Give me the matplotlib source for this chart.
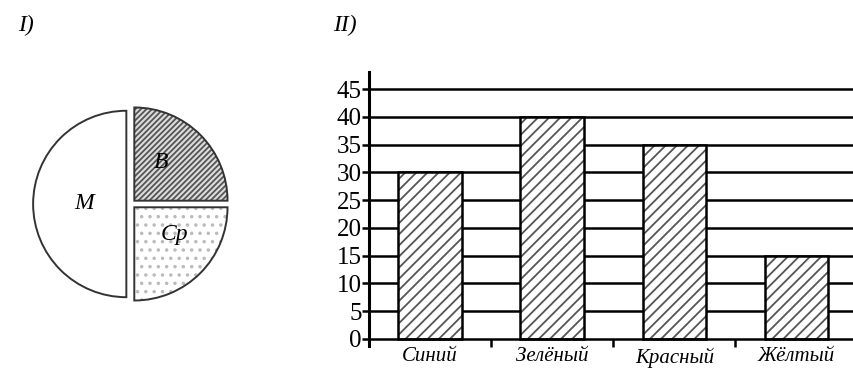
import matplotlib
matplotlib.use("Agg")
import matplotlib.pyplot as plt
import matplotlib.ticker as ticker

plt.rcParams["font.family"] = ["Liberation Serif", "DejaVu Serif"]
plt.rcParams["hatch.linewidth"] = 1.3

# pie (I)
pie_labels = ["M", "Cp", "B"]
pie_values = [50, 25, 25]

# bars (II)
categories = ["Синий", "Зелёный", "Красный", "Жёлтый"]
values = [30, 40, 35, 15]
y_ticks = [0, 5, 10, 15, 20, 25, 30, 35, 40, 45]

fig = plt.figure(figsize=(8.54, 3.68), dpi=100)

# ---- pie ----
ax1 = fig.add_axes([0.0246, 0.1467, 0.2576, 0.598])
explode = [0.05, 0.05, 0.05]
# fill + hatch layer
fills, _ = ax1.pie(pie_values, startangle=90, counterclock=True, explode=explode,
                   wedgeprops=dict(linewidth=0))
fills[0].set_facecolor("white")
fills[1].set_facecolor("white")
fills[1].set_hatch("..")
fills[1].set_edgecolor("#bbbbbb")
fills[2].set_facecolor("#dcdcdc")
fills[2].set_hatch("//////")
fills[2].set_edgecolor("#555555")
# outline layer
ax1.pie(pie_values, startangle=90, counterclock=True, explode=explode,
        wedgeprops=dict(fill=False, edgecolor="#333333", linewidth=1.4))
ax1.set_xlim(-1.18, 1.18)
ax1.set_ylim(-1.18, 1.18)
ax1.set_aspect("equal")
ax1.text(-0.5, 0.0, pie_labels[0], fontsize=17, style="italic", ha="center", va="center")
ax1.text(0.47, -0.33, pie_labels[1], fontsize=17, style="italic", ha="center", va="center")
ax1.text(0.32, 0.44, pie_labels[2], fontsize=17, style="italic", ha="center", va="center")

# ---- bars ----
ax2 = fig.add_axes([0.432, 0.0592, 0.568, 0.744])
x = [i + 0.5 for i in range(len(categories))]
for yv in y_ticks[1:]:
    ax2.axhline(yv, color="black", linewidth=1.8, zorder=1)
ax2.bar(x, values, width=0.52, facecolor="white", edgecolor="#555555",
        linewidth=0, hatch="///", zorder=2)
ax2.bar(x, values, width=0.52, fill=False, edgecolor="black",
        linewidth=1.8, zorder=3)

ax2.set_xlim(0, 3.97)
ax2.set_ylim(-1.3, 48)
ax2.spines["top"].set_visible(False)
ax2.spines["right"].set_visible(False)
ax2.spines["bottom"].set_position(("data", 0))
ax2.spines["bottom"].set_linewidth(1.8)
ax2.spines["left"].set_linewidth(2.2)

ax2.set_yticks(y_ticks)
ax2.tick_params(axis="y", length=5, width=1.8, labelsize=18, pad=0)
ax2.set_xticks(x)
ax2.set_xticklabels(categories, fontsize=15, style="italic")
ax2.xaxis.set_minor_locator(ticker.FixedLocator([1, 2, 3]))
ax2.tick_params(axis="x", which="major", length=0, pad=6)
ax2.tick_params(axis="x", which="minor", length=6, width=1.8, direction="out")

fig.text(0.021, 0.93, "I)", fontsize=17, style="italic", va="center")
fig.text(0.39, 0.93, "II)", fontsize=17, style="italic", va="center")

fig.savefig("out.png", dpi=100)
